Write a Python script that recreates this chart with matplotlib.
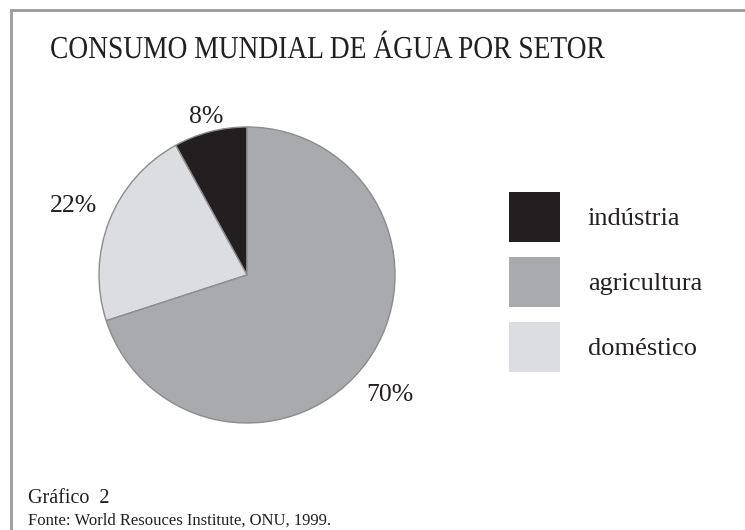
import matplotlib
matplotlib.use('Agg')
import numpy as np
import matplotlib.pyplot as plt
from matplotlib.patches import Patch
from matplotlib.lines import Line2D
from matplotlib.patheffects import AbstractPathEffect
from matplotlib.transforms import Affine2D

# data
sectors = ['indústria', 'agricultura', 'doméstico']
shares = [8, 70, 22]
pct_labels = ['8%', '70%', '22%']
colors = ['#231f20', '#a8aaad', '#dcdde0']

title = 'CONSUMO MUNDIAL DE ÁGUA POR SETOR'
caption = 'Gráfico  2'
source = 'Fonte: World Resouces Institute, ONU, 1999.'

W, H = 745, 530

plt.rcParams['font.family'] = ['Liberation Serif', 'DejaVu Serif']


class Squeeze(AbstractPathEffect):
    """narrow the glyphs horizontally (the original uses a condensed serif)"""
    def __init__(self, sx, x0):
        super().__init__()
        self.sx = sx
        self.x0 = x0

    def draw_path(self, renderer, gc, tpath, affine, rgbFace=None):
        squeeze = Affine2D().translate(-self.x0, 0).scale(self.sx, 1).translate(self.x0, 0)
        renderer.draw_path(gc, tpath, affine + squeeze, rgbFace)


fig = plt.figure(figsize=(W / 100, H / 100), dpi=100)

# frame on top and left (the image is cropped on the other sides)
fig.add_artist(Line2D([11 / W, 1], [1 - 10 / H, 1 - 10 / H], transform=fig.transFigure,
                      color='#9b9b9b', lw=2))
fig.add_artist(Line2D([11 / W, 11 / W], [0, 1 - 10 / H], transform=fig.transFigure,
                      color='#9b9b9b', lw=2))

# pie: industry starts at 12 o'clock, going counter-clockwise
ax = fig.add_axes([99 / W, 1 - 423 / H, 296 / W, 296 / H])
order = [0, 2, 1]  # indústria, doméstico, agricultura
wedges, texts = ax.pie([shares[i] for i in order],
                       colors=[colors[i] for i in order],
                       labels=[pct_labels[i] for i in order],
                       startangle=90, counterclock=True,
                       labeldistance=1.26,
                       wedgeprops=dict(edgecolor='#8c8c8c', linewidth=1.0),
                       textprops=dict(fontsize=18.5, color='#231f20'))
# the small slice has its label closer to the rim
x, y = texts[0].get_position()
texts[0].set_position((x * 1.1 / 1.26, y * 1.1 / 1.26))
# the 70% label sits a bit below the middle of its slice
x, y = texts[2].get_position()
a = np.deg2rad(-4)
texts[2].set_position((x * np.cos(a) - y * np.sin(a), x * np.sin(a) + y * np.cos(a)))
for t in texts:
    t.set_ha('center')
    t.set_va('center')
ax.set_xlim(-1, 1)
ax.set_ylim(-1, 1)
ax.set_aspect('equal')
ax.axis('off')

# legend
handles = [Patch(facecolor=c, edgecolor='none') for c in colors]
fig.legend(handles, sectors,
           loc='upper left', bbox_to_anchor=(509 / W, 1 - 192 / H),
           frameon=False, borderpad=0, borderaxespad=0,
           handlelength=1.93, handleheight=2.54, handletextpad=1.06,
           labelspacing=0.57, labelcolor='#231f20',
           prop=dict(size=19))

fig.text(50 / W, 1 - 58 / H, title, fontsize=23, color='#231f20', va='baseline',
         path_effects=[Squeeze(0.86, 50)])
fig.text(28 / W, 1 - 503 / H, caption, fontsize=14.5, color='#231f20', va='baseline')
fig.text(28 / W, 1 - 525 / H, source, fontsize=12, color='#231f20', va='baseline')

fig.savefig('out.png', dpi=100)
